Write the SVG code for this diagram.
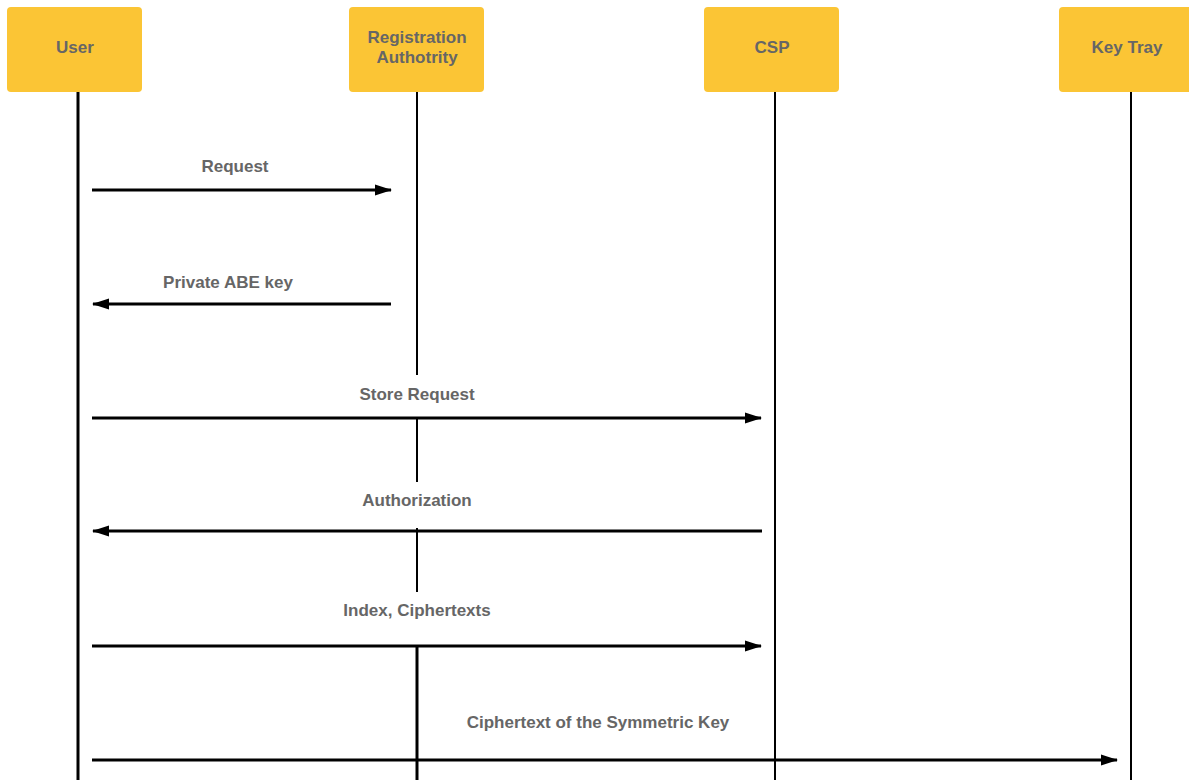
<svg xmlns="http://www.w3.org/2000/svg" width="1189" height="780" viewBox="0 0 1189 780">
  <style>
    .head { fill: #fbc535; }
    .htxt { font-family: "Liberation Sans", Arial, sans-serif; font-weight: bold; font-size: 17px; fill: #666666; text-anchor: middle; }
    .lbl { font-family: "Liberation Sans", Arial, sans-serif; font-weight: bold; font-size: 17px; fill: #666666; text-anchor: middle; }
    .life { stroke: #000; stroke-width: 2; fill: none; }
    .life3 { stroke: #000; stroke-width: 3; fill: none; }
    .msg { stroke: #000; stroke-width: 3; fill: none; }
  </style>
  <defs>
    <marker id="arrow" markerWidth="17" markerHeight="12" refX="16" refY="6" markerUnits="userSpaceOnUse" orient="auto" overflow="visible">
      <path d="M0,0.5 L17,6 L0,11.5 z" fill="#000"/>
    </marker>
  </defs>
  <rect width="1189" height="780" fill="#ffffff"/>

  <!-- lifelines -->
  <g id="lifelines">
    <line class="life3" x1="78" y1="92" x2="78" y2="780"/>
    <line class="life" x1="417" y1="92" x2="417" y2="375"/>
    <line class="life" x1="417" y1="418" x2="417" y2="482"/>
    <line class="life" x1="417" y1="528" x2="417" y2="592"/>
    <line class="life3" x1="417" y1="647" x2="417" y2="780"/>
    <line class="life" x1="775" y1="92" x2="775" y2="780"/>
    <line class="life" x1="1131" y1="92" x2="1131" y2="780"/>
  </g>

  <!-- participants -->
  <g id="user">
    <rect class="head" x="7" y="7" width="135" height="85" rx="4"/>
    <text class="htxt" x="75" y="53">User</text>
  </g>
  <g id="registration-authority">
    <rect class="head" x="349" y="7" width="135" height="85" rx="4"/>
    <text class="htxt" x="417" y="43">Registration</text>
    <text class="htxt" x="417" y="63">Authotrity</text>
  </g>
  <g id="csp">
    <rect class="head" x="704" y="7" width="135" height="85" rx="4"/>
    <text class="htxt" x="772" y="53">CSP</text>
  </g>
  <g id="key-tray">
    <rect class="head" x="1059" y="7" width="140" height="85" rx="4"/>
    <text class="htxt" x="1127" y="53">Key Tray</text>
  </g>

  <!-- messages -->
  <g id="connectors">
    <path class="msg" d="M92,190 H391" marker-end="url(#arrow)"/>
    <path class="msg" d="M391,304 H93" marker-end="url(#arrow)"/>
    <path class="msg" d="M92,418 H761" marker-end="url(#arrow)"/>
    <path class="msg" stroke-width="2.5" d="M762,531 H93" marker-end="url(#arrow)"/>
    <path class="msg" stroke-width="2.5" d="M92,646 H761" marker-end="url(#arrow)"/>
    <path class="msg" d="M92,760 H1117" marker-end="url(#arrow)"/>
  </g>

  <g id="labels">
    <text class="lbl" x="235" y="172">Request</text>
    <text class="lbl" x="228" y="288">Private ABE key</text>
    <text class="lbl" x="417" y="400">Store Request</text>
    <text class="lbl" x="417" y="506">Authorization</text>
    <text class="lbl" x="417" y="616">Index, Ciphertexts</text>
    <text class="lbl" x="598" y="728">Ciphertext of the Symmetric Key</text>
  </g>
</svg>
